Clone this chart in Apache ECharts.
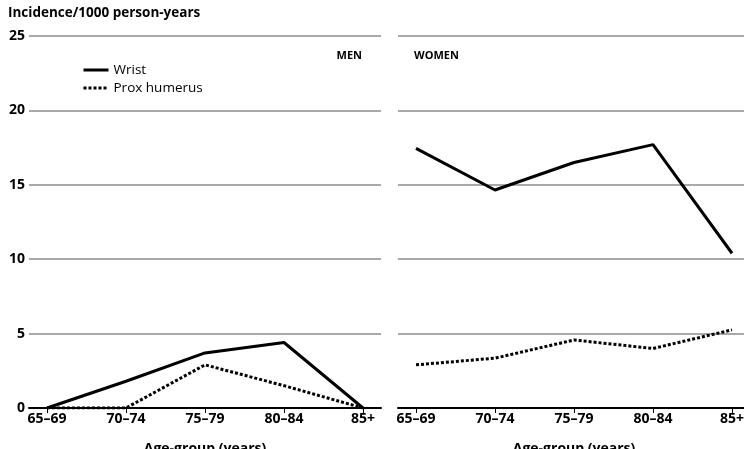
<!DOCTYPE html>
<html>
<head>
<meta charset="utf-8">
<script src="https://cdn.jsdelivr.net/npm/echarts@6/dist/echarts.min.js"></script>
<style>
html,body{margin:0;padding:0;background:#fff;}
#chart{width:744px;height:449px;}
</style>
</head>
<body>
<div id="chart"></div>
<script>
const ageGroups = ['65\u201369', '70\u201374', '75\u201379', '80\u201384', '85+'];
const menWrist = [0, 1.8, 3.7, 4.4, 0];
const menProx = [0, 0, 2.9, 1.5, 0];
const womenWrist = [17.45, 14.65, 16.5, 17.7, 10.4];
const womenProx = [2.9, 3.35, 4.57, 4.0, 5.25];
const yTicks = [0, 5, 10, 15, 20, 25];
const yTitle = 'Incidence/1000 person-years';
const xTitle = 'Age-group (years)';
const seriesNames = ['Wrist', 'Prox humerus'];
const panelNames = ['MEN', 'WOMEN'];

const FONT = 'Open Sans';
const idx = ageGroups.map((_, i) => i);
const toPairs = arr => arr.map((v, i) => [i, v]);

const chart = echarts.init(document.getElementById('chart'), null, {renderer: 'canvas'});

function xAxes(gridIndex) {
  const base = {
    type: 'value', gridIndex: gridIndex, min: -0.228, max: idx.length - 1 + 0.228,
    splitLine: {show: false}
  };
  return [
    Object.assign({}, base, {
      axisLine: {show: true, onZero: false, lineStyle: {color: '#000', width: 2}},
      axisTick: {show: true, inside: false, length: 5, customValues: idx, lineStyle: {color: '#000', width: 1}},
      axisLabel: {show: true, customValues: idx, formatter: v => ageGroups[Math.round(v)] || '',
        color: '#000', fontFamily: FONT, fontWeight: 'bold', fontSize: 14, margin: 4},
      name: xTitle, nameLocation: 'middle', nameGap: 34,
      nameTextStyle: {color: '#000', fontFamily: FONT, fontWeight: 'bold', fontSize: 14}
    }),
    Object.assign({}, base, {
      axisLine: {show: false},
      axisTick: {show: true, inside: true, length: 5, customValues: idx, lineStyle: {color: '#000', width: 1}},
      axisLabel: {show: false}
    })
  ];
}

function yAxis(gridIndex, showLabels) {
  return {
    type: 'value', gridIndex: gridIndex, min: yTicks[0], max: yTicks[yTicks.length - 1], interval: 5,
    axisLine: {show: false}, axisTick: {show: false},
    axisLabel: {show: showLabels, color: '#000', fontFamily: FONT, fontWeight: 'bold', fontSize: 14, margin: 4},
    splitLine: {show: true, lineStyle: {color: '#8c8c8c', width: 1.5}}
  };
}

const solid = {color: '#000', width: 3, type: 'solid'};
const dotted = {color: '#000', width: 3, type: [3, 2], cap: 'butt'};

function line(name, data, xi, yi, style) {
  return {
    name: name, type: 'line', xAxisIndex: xi, yAxisIndex: yi, data: toPairs(data),
    symbol: 'none', showSymbol: false, lineStyle: style, itemStyle: {color: '#000'},
    silent: true, animation: false, z: 5
  };
}

const option = {
  animation: false,
  backgroundColor: '#fff',
  grid: [
    {left: 29, right: 744 - 381, top: 36, bottom: 449 - 408, outerBoundsMode: 'none', containLabel: false},
    {left: 398, width: 352, top: 36, bottom: 449 - 408, outerBoundsMode: 'none', containLabel: false}
  ],
  xAxis: xAxes(0).concat(xAxes(1)),
  yAxis: [yAxis(0, true), yAxis(1, false)],
  legend: {
    data: seriesNames, orient: 'vertical', left: 82, top: 63, itemGap: 4, padding: 0,
    itemWidth: 25, itemHeight: 14, selectedMode: false,
    itemStyle: {opacity: 0},
    lineStyle: {width: 3},
    textStyle: {color: '#000', fontFamily: FONT, fontSize: 13.5}
  },
  graphic: [
    {type: 'text', left: 8, top: 6, style: {text: yTitle, fill: '#000', font: 'bold 13.5px "Open Sans"'}},
    {type: 'text', right: 744 - 362, top: 50, style: {text: panelNames[0], fill: '#000', font: 'bold 11px "Open Sans"'}},
    {type: 'text', left: 414, top: 50, style: {text: panelNames[1], fill: '#000', font: 'bold 11px "Open Sans"'}}
  ],
  series: [
    line(seriesNames[0], menWrist, 0, 0, solid),
    line(seriesNames[1], menProx, 0, 0, dotted),
    line(seriesNames[0], womenWrist, 2, 1, solid),
    line(seriesNames[1], womenProx, 2, 1, dotted)
  ]
};
chart.setOption(option);
</script>
</body>
</html>
